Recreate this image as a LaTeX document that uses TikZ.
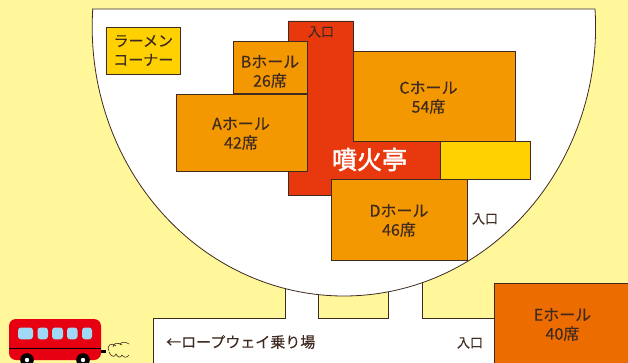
\documentclass[tikz,border=0pt]{standalone}
\usepackage{fontspec}
\setmainfont{Noto Sans CJK JP}[FakeBold=0.25]
\newfontfamily\namefont{Noto Sans CJK JP}[FakeBold=2]
\definecolor{bgy}{HTML}{FFF799}
\definecolor{hallo}{HTML}{F39800}
\definecolor{halle}{HTML}{ED6C00}
\definecolor{redm}{HTML}{E8380D}
\definecolor{yel}{HTML}{FFD100}
\definecolor{ink}{HTML}{3E2A20}
\definecolor{busred}{HTML}{E60012}
\definecolor{win}{HTML}{9FD9F6}
\tikzset{
 room/.style={draw=ink,line width=0.8pt,fill=#1,inner sep=0pt,anchor=north west},
 hallt/.style={text=ink,inner sep=0pt,align=center,font=\fontsize{16}{19}\selectfont},
 lbl/.style={text=ink,inner sep=0pt,align=center,font=\fontsize{13}{19}\selectfont},
 outline/.style={draw=ink,line width=0.8pt},
 winb/.style={fill=win,rounded corners=3pt},
 smoke/.style={draw=ink,line width=0.6pt},
}
\begin{document}
\begin{tikzpicture}[x=1pt,y=-1pt]
\clip (0,0) rectangle (628,363);
\fill[bgy] (0,0) rectangle (628,363);
% walkway
\draw[outline,fill=white] (153,370) -- (153,318) -- (285,318) -- (285,280) -- (318,280) -- (318,318) -- (388,318) -- (388,280) -- (422,280) -- (422,318) -- (500,318) -- (500,370) -- cycle;
% building
\draw[outline,fill=white] (92,9) -- (595,9) arc[start angle=3.84,end angle=-183.84,x radius=251.7pt,y radius=269pt] -- cycle;
% restaurant
\draw[draw=ink,line width=0.8pt,fill=redm] (288,21) -- (353.5,21) -- (353.5,141) -- (440,141) -- (440,180) -- (331,180) -- (331,195) -- (288,195) -- cycle;
\node[room=yel,minimum width=73.5pt,minimum height=47.5pt] (ramen) at (106,27) {};
\node[hallt,font=\fontsize{15}{19}\selectfont] (ramenT) at (143.3,50.5) {ラーメン\\コーナー};
\node[room=hallo,minimum width=74pt,minimum height=52pt] (hallB) at (233,41.5) {};
\node[hallt] (hallBt) at (270,71.5) {Bホール\\26席};
\node[room=hallo,minimum width=131.5pt,minimum height=77.5pt] (hallA) at (175.5,94) {};
\node[hallt] (hallAt) at (241,133.5) {Aホール\\42席};
\node[room=hallo,minimum width=162pt,minimum height=90pt] (hallC) at (353,51) {};
\node[hallt] (hallCt) at (428.5,97.5) {Cホール\\54席};
\node[room=yel,minimum width=90pt,minimum height=38pt] (side) at (440,141.5) {};
\node[room=hallo,minimum width=136pt,minimum height=80pt] (hallD) at (331,179.5) {};
\node[hallt] (hallDt) at (399,220.5) {Dホール\\46席};
\node[room=halle,minimum width=140pt,minimum height=85pt] (hallE) at (494,283) {};
\node[hallt] (hallEt) at (562.5,324.5) {Eホール\\40席};
\node[inner sep=0pt,text=white,font=\namefont\fontsize{25}{25}\selectfont] (name) at (369.5,159.5) {噴火亭};
\node[lbl] (in1) at (321,32) {入口};
\node[lbl] (in2) at (485,219) {入口};
\node[lbl] (in3) at (470,343) {入口};
\node[inner sep=0pt,text=ink,font=\fontsize{15}{15}\selectfont,anchor=west] (rope) at (166,342) {←ロープウェイ乗り場};
% bus
\fill[busred,rounded corners=7pt] (9,319) rectangle (101,360);
\fill[winb] (18,327.5) rectangle (33,339.3);
\fill[winb] (37.5,327.5) rectangle (48,339.3);
\fill[winb] (52,327.5) rectangle (63,339.3);
\fill[winb] (67,327.5) rectangle (77.5,339.3);
\fill[winb] (82,327.5) rectangle (92,339.3);
\draw[black,line width=1pt] (9,348.5) -- (101,348.5);
\fill[black] (101,350) rectangle (106,353);
\fill[black] (27,360) circle[radius=6.8pt];
\fill[black] (83,360) circle[radius=6.8pt];
\fill[white] (27,360) circle[radius=2.2pt];
\fill[white] (83,360) circle[radius=2.2pt];
% smoke
\draw[smoke] (109,351) .. controls (106,345) and (112,342) .. (116,346);
\draw[smoke] (113,347) .. controls (113,343) and (118,342) .. (122,345);
\draw[smoke] (120,345) .. controls (120,342) and (125,341) .. (129,344);
\draw[smoke] (109,352) .. controls (112,358) and (115,357) .. (116,354) .. controls (118,358) and (121,358) .. (122,355) .. controls (124,358) and (127,358) .. (129,355);
\end{tikzpicture}
\end{document}
